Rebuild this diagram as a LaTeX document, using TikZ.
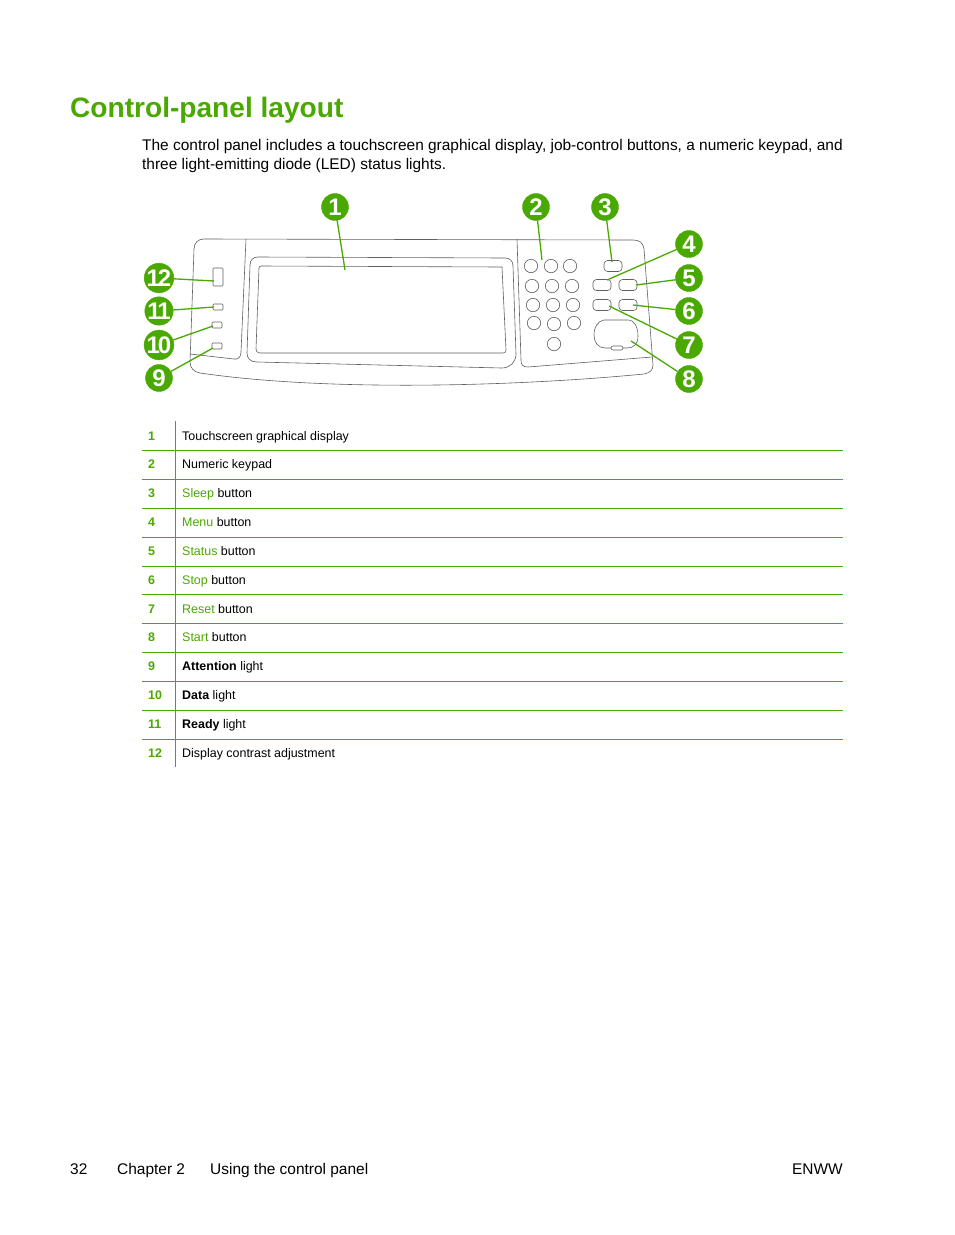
\documentclass[tikz,border=0pt]{standalone}
\usepackage{fontspec}
\setmainfont{Liberation Sans}
\usepackage{xcolor}
\definecolor{hpgreen}{HTML}{4AA900}
\definecolor{panelgray}{HTML}{606060}
\usetikzlibrary{positioning,arrows.meta}
\tikzset{
	txt/.style={inner sep=0pt,anchor=base west,text=black},
	titletxt/.style={txt,text=hpgreen,font=\fontsize{28.1}{30}\selectfont\bfseries},
	bodytxt/.style={txt,font=\fontsize{15.45}{18}\selectfont},
	rowtxt/.style={txt,font=\fontsize{12.45}{14}\selectfont},
	rownum/.style={rowtxt,text=hpgreen,font=\fontsize{12.45}{14}\selectfont\bfseries},
	callout/.style={circle,fill=hpgreen,draw=hpgreen,minimum size=27pt,inner sep=0pt,text=white,font=\fontsize{24}{24}\selectfont\bfseries\addfontfeatures{LetterSpace=-9}},
	leader/.style={draw=hpgreen,line width=1.3pt},
	panel/.style={draw=panelgray,line width=0.6pt},
	rule/.style={draw=hpgreen,line width=0.8pt},
	key/.style={panel,rounded corners=3.5pt}
}
\newcommand{\grn}[1]{\textcolor{hpgreen}{#1}}
\begin{document}
\begin{tikzpicture}[x=1pt,y=-1pt]
	\useasboundingbox[fill=white] (0,0) rectangle (954,1235);

	% heading and intro
	\node[titletxt] (title) at (70,117) {Control-panel layout};
	\node[bodytxt] (introa) at (142,150) {The control panel includes a touchscreen graphical display, job-control buttons, a numeric keypad, and};
	\node[bodytxt] (introb) at (142,169) {three light-emitting diode (LED) status lights.};

	% panel outline
	\draw[panel] (204,239) -- (633,240) .. controls (640,240) and (643,243) .. (644,249)
		-- (653,365) .. controls (653,370) and (650,373) .. (644,374)
		.. controls (520,386) and (330,392) .. (200,373)
		.. controls (194,372) and (190,368) .. (190,362)
		-- (194,249) .. controls (194,243) and (198,239) .. (204,239);
	\draw[panel] (246,239) -- (241,352) .. controls (241,357) and (238,360) .. (234,359) -- (190,354);
	\draw[panel] (517,239) -- (521,360) .. controls (521,365) and (523,367) .. (528,367) -- (652,357);

	% display
	\draw[panel] (258,257) -- (505,258) .. controls (510,258) and (513,261) .. (513,266)
		-- (516,354) .. controls (516,362) and (510,368) .. (502,368)
		-- (257,362) .. controls (250,362) and (247,358) .. (247,353)
		-- (250,265) .. controls (250,260) and (253,257) .. (258,257);
	\draw[panel] (261,266) -- (502,267) -- (506,350) .. controls (506,352) and (505,353) .. (503,353)
		-- (260,353) .. controls (257,353) and (256,351) .. (256,349)
		-- (259,268) .. controls (259,267) and (260,266) .. (261,266);

	% keypad
	\foreach \x/\y in {531/266, 551/266, 570/266, 532/286, 552/286, 572/286, 533/305, 553/305, 573/305, 534/323, 554/324, 574/323, 554/344}
	{
		\draw[panel] (\x,\y) circle (6.7);
	}

	% buttons and lights
	\foreach \name/\x/\y/\w/\h in {sleep/613/266/18/11, menu/602/285/18/11, status/628/285/18/11, reset/602/305/18/11, stop/628/305/18/11}
	{
		\node[key,minimum width=\w pt,minimum height=\h pt,inner sep=0pt] (\name) at (\x,\y) {};
	}
	\draw[panel] (604,320) -- (628,320) .. controls (635,320) and (638,328) .. (638,336)
		.. controls (638,344) and (634,348) .. (627,348) -- (605,348)
		.. controls (598,348) and (594,342) .. (594,335)
		.. controls (594,327) and (598,321) .. (604,320);
	\node[key,rounded corners=2pt,minimum width=12pt,minimum height=4pt,inner sep=0pt,fill=white] (startmark) at (617,348) {};
	\node[key,rounded corners=1pt,minimum width=10pt,minimum height=18pt,inner sep=0pt] (contrast) at (218,277) {};
	\foreach \name/\x/\y in {ready/218/307, data/217/325, attention/217/346}
	{
		\node[key,rounded corners=1pt,minimum width=10pt,minimum height=6pt,inner sep=0pt] (\name) at (\x,\y) {};
	}

	% callouts
	\foreach \n/\x/\y/\tx/\ty in {1/335/207/345/270, 2/536/207/542/260, 3/605/207/612/262, 4/689/244/607/280, 5/689/278/636/285, 6/689/311/633/305, 7/689/345/609/306, 8/689/379/631/341, 9/159/378/213/348, 10/159/345/213/326, 11/159/311/214/307, 12/159/278/214/281}
	{
		\coordinate (end\n) at (\tx,\ty);
		\node[callout] (num\n) at (\x,\y) {\n};
		\draw[leader] (num\n) -- (end\n);
	}

	% legend table
	\foreach \y in {450.5, 479.5, 508, 537, 566, 594.5, 623.5, 652.5, 681.5, 710, 739}
	{
		\draw[rule] (142,\y) -- (843,\y);
	}
	\draw[rule] (175.5,421) -- (175.5,767);
	\foreach \n/\y/\lab in {1/440/{Touchscreen graphical display}, 2/468/{Numeric keypad}, 3/497/{\grn{Sleep} button}, 4/526/{\grn{Menu} button}, 5/555/{\grn{Status} button}, 6/584/{\grn{Stop} button}, 7/613/{\grn{Reset} button}, 8/641/{\grn{Start} button}, 9/670/{\textbf{Attention} light}, 10/699/{\textbf{Data} light}, 11/728/{\textbf{Ready} light}, 12/757/{Display contrast adjustment}}
	{
		\node[rownum] (rownum\n) at (148,\y) {\n};
		\node[rowtxt] (rowlab\n) at (182,\y) {\lab};
	}

	% footer
	\node[bodytxt] (pagenum) at (70,1174) {32};
	\node[bodytxt] (chapter) at (117,1174) {Chapter 2};
	\node[bodytxt] (section) at (210,1174) {Using the control panel};
	\node[bodytxt,anchor=base east] (enww) at (843,1174) {ENWW};
\end{tikzpicture}
\end{document}
